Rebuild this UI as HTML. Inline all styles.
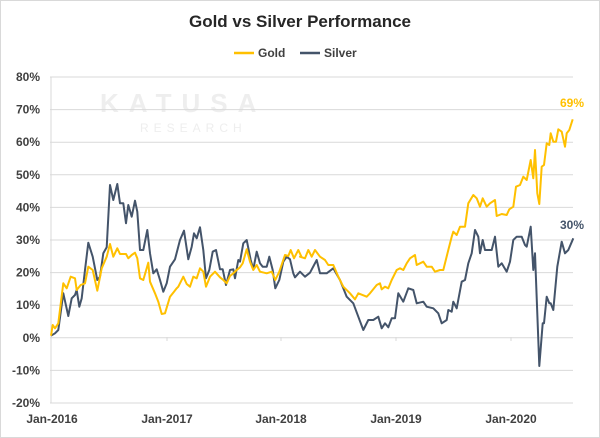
<!DOCTYPE html>
<html><head><style>
body{margin:0;background:#fff;}
svg{display:block;font-family:"Liberation Sans",sans-serif;}
</style></head><body>
<svg id="s" width="600" height="438" viewBox="0 0 600 438">
<rect x="0.5" y="0.5" width="599" height="437" fill="#fff" stroke="#d9d9d9"/>
<text x="300" y="27" text-anchor="middle" font-size="17" font-weight="bold" fill="#262626">Gold vs Silver Performance</text>
<line x1="234" y1="53" x2="254" y2="53" stroke="#FFC000" stroke-width="2.5"/>
<text x="258" y="57" font-size="12" font-weight="bold" fill="#404040">Gold</text>
<line x1="300" y1="53" x2="320" y2="53" stroke="#44546A" stroke-width="2.5"/>
<text x="324" y="57" font-size="12" font-weight="bold" fill="#404040">Silver</text>
<text x="100" y="112" font-size="26" font-weight="bold" fill="#eeeeee" letter-spacing="10">KATUSA</text>
<text x="140" y="132" font-size="12" fill="#eeeeee" letter-spacing="5">RESEARCH</text>
<g id="grid" stroke="#d9d9d9" stroke-width="1"></g>
<g id="yl" font-size="12" font-weight="bold" fill="#404040" text-anchor="end"></g>
<g font-size="12" font-weight="bold" fill="#404040" text-anchor="middle">
<text x="52" y="423">Jan-2016</text>
<text x="167" y="423">Jan-2017</text>
<text x="281" y="423">Jan-2018</text>
<text x="396" y="423">Jan-2019</text>
<text x="511" y="423">Jan-2020</text>
</g>
<polyline id="sil" fill="none" stroke="#44546A" stroke-width="2" stroke-linejoin="round"/>
<polyline id="gold" fill="none" stroke="#FFC000" stroke-width="2" stroke-linejoin="round"/>
<text x="572" y="107" font-size="12" font-weight="bold" fill="#FFC000" text-anchor="middle">69%</text>
<text x="572" y="229" font-size="12" font-weight="bold" fill="#44546A" text-anchor="middle">30%</text>
</svg>
<script>
var ns="http://www.w3.org/2000/svg";
var g=document.getElementById("grid"),yl=document.getElementById("yl");
for(var i=0;i<=10;i++){var v=80-i*10,y=77+i*32.6;
var l=document.createElementNS(ns,"line");l.setAttribute("x1",50);l.setAttribute("x2",573);l.setAttribute("y1",y);l.setAttribute("y2",y);g.appendChild(l);
var t=document.createElementNS(ns,"text");t.setAttribute("x",40);t.setAttribute("y",y+4);t.textContent=v+"%";yl.appendChild(t);}
var ax=document.createElementNS(ns,"line");ax.setAttribute("x1",51);ax.setAttribute("x2",51);ax.setAttribute("y1",77);ax.setAttribute("y2",403);g.appendChild(ax);
[167,281,396,511].forEach(function(x){var l=document.createElementNS(ns,"line");l.setAttribute("x1",x);l.setAttribute("x2",x);l.setAttribute("y1",337);l.setAttribute("y2",341);g.appendChild(l);});
function conv(a,ox,oy,max){var r=[];for(var i=0;i<a.length;i+=2){if(max!==undefined&&a[i]>max)continue;r.push((ox+a[i]/3).toFixed(1)+","+(oy+a[i+1]/3).toFixed(1));}return r;}
var s1=[33,497,45,490,55,480,70,370,85,438,95,385,105,375,110,360,118,410,125,385,135,300,145,218,158,260,172,330,180,320,190,250,200,232,210,45,220,90,232,42,240,100,250,100,258,160,265,105,275,140,285,92,292,125,300,240,310,240,322,180,330,250,340,310,350,298,360,330,370,365,380,340,390,290,405,268,420,210,432,182,445,268,455,230,462,190,470,205,480,172,490,240,498,325,508,300,518,245,528,240,540,298,548,298,558,345,570,300,580,298,585,325,595,270,600,275,610,220,620,210,632,270,640,298,650,245,660,280,668,290,680,290,688,260,698,300,706,355,718,330,730,275,740,260,750,268,760,310,765,322,780,305];
var g1=[33,497,38,465,45,475,55,460,70,340,80,355,92,320,105,325,110,360,122,345,135,340,145,290,158,300,172,362,185,295,200,260,210,222,220,260,232,235,240,252,258,252,265,265,275,255,285,248,292,265,300,325,310,330,325,278,330,335,345,370,355,395,365,432,375,430,390,380,402,365,410,355,415,350,430,320,440,342,450,350,460,320,470,325,480,295,490,305,498,350,510,320,525,305,540,322,550,330,560,340,570,318,580,310,590,300,600,292,608,280,620,238,630,275,640,300,650,285,660,305,680,310,695,305,706,330,718,305,735,255,745,258,752,240,762,265,775,240,785,262];
var s2=[0,545,15,560,30,548,50,510,60,550,80,550,100,535,120,570,140,620,160,640,175,680,190,720,205,690,220,690,235,680,245,715,255,700,265,712,275,685,285,685,295,610,310,635,325,595,340,600,350,640,370,635,380,650,400,655,415,670,425,700,440,690,445,660,455,665,460,635,470,655,485,575,495,570,505,520,515,490,525,420,535,440,540,490,548,450,555,480,575,480,585,440,595,530,605,520,620,545,630,515,640,450,650,440,665,440,675,465,680,470,692,410,700,540,705,490,718,828,728,700,732,700,740,620,748,640,752,640,760,660,772,530,785,455,795,490,805,480,820,445];
var g2=[0,500,15,505,25,480,35,500,45,480,60,500,75,510,85,525,100,525,115,560,130,590,150,610,165,628,175,610,200,620,210,610,230,585,240,580,245,598,255,590,265,595,275,570,290,540,300,535,310,540,320,520,330,505,345,495,350,525,370,515,380,530,395,530,405,545,420,540,430,540,445,480,455,440,460,425,470,435,480,410,495,410,505,340,520,315,530,325,540,350,548,325,560,350,570,340,585,330,590,378,605,372,620,375,628,358,640,350,648,290,660,285,670,260,680,270,692,210,700,265,705,180,712,310,718,342,725,230,732,225,740,160,748,165,752,130,760,155,768,155,775,118,785,125,795,170,800,130,808,120,818,88];
document.getElementById("sil").setAttribute("points",conv(s1,40,170,785).concat(conv(s2,300,90)).join(" "));
document.getElementById("gold").setAttribute("points",conv(g1,40,170,785).concat(conv(g2,300,90)).join(" "));
</script>
</body></html>
